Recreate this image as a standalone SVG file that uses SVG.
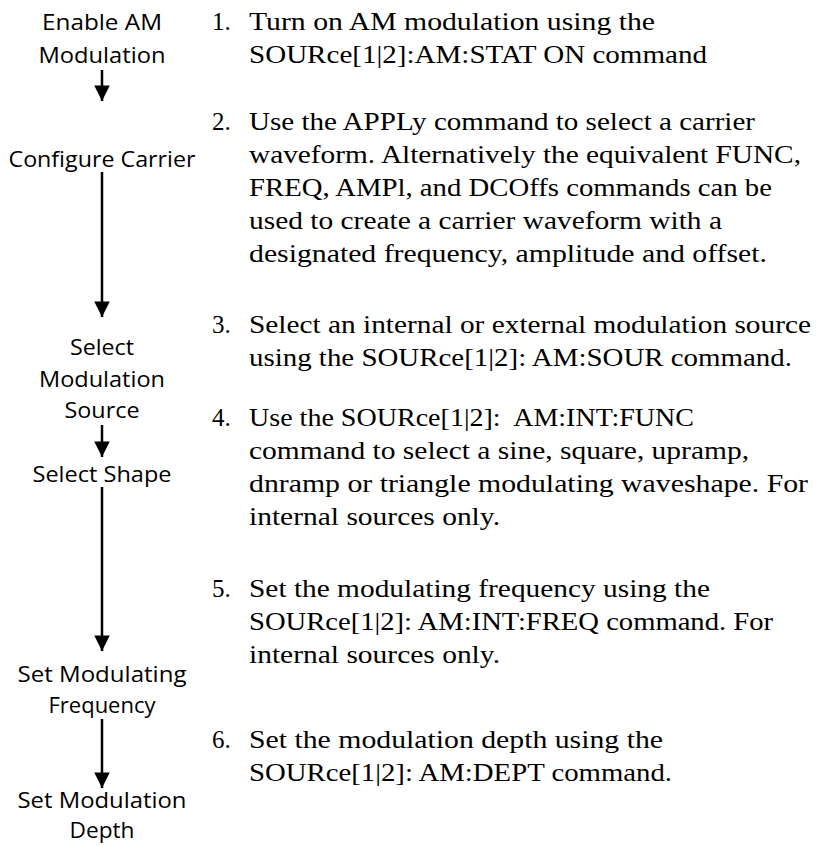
<svg xmlns="http://www.w3.org/2000/svg" width="818" height="846" viewBox="0 0 818 846">
<style>
.l{font-family:"Open Sans","DejaVu Sans",sans-serif;font-size:21px;fill:#000;text-anchor:middle}
.r{font-family:"Liberation Serif","DejaVu Serif",serif;font-size:25px;fill:#000}
.c{stroke:#000;stroke-width:2.5;fill:none}
</style>
<defs>
<marker id="ah" viewBox="0 0 10 10" refX="10" refY="5" markerWidth="6.4" markerHeight="6.2" markerUnits="strokeWidth" orient="auto">
<path d="M0,0 L10,5 L0,10 z" fill="#000"/>
</marker>
</defs>
<rect width="818" height="846" fill="#fff"/>
<g id="connectors">
<line class="c" x1="102" y1="70" x2="102" y2="101" marker-end="url(#ah)"/>
<line class="c" x1="102" y1="172" x2="102" y2="317" marker-end="url(#ah)"/>
<line class="c" x1="102" y1="425" x2="102" y2="457" marker-end="url(#ah)"/>
<line class="c" x1="102" y1="487" x2="102" y2="651" marker-end="url(#ah)"/>
<line class="c" x1="102" y1="719" x2="102" y2="788" marker-end="url(#ah)"/>
</g>
<g id="n1"><text class="l" x="102" y="30" textLength="120" lengthAdjust="spacingAndGlyphs">Enable AM</text><text class="l" x="102" y="63" textLength="127" lengthAdjust="spacingAndGlyphs">Modulation</text></g>
<g id="n2"><text class="l" x="102" y="167" textLength="187" lengthAdjust="spacingAndGlyphs">Configure Carrier</text></g>
<g id="n3"><text class="l" x="102" y="355" textLength="64" lengthAdjust="spacingAndGlyphs">Select</text><text class="l" x="102" y="387" textLength="126" lengthAdjust="spacingAndGlyphs">Modulation</text><text class="l" x="102" y="418" textLength="75" lengthAdjust="spacingAndGlyphs">Source</text></g>
<g id="n4"><text class="l" x="102" y="482" textLength="139" lengthAdjust="spacingAndGlyphs">Select Shape</text></g>
<g id="n5"><text class="l" x="102" y="682" textLength="169" lengthAdjust="spacingAndGlyphs">Set Modulating</text><text class="l" x="102" y="713" textLength="107" lengthAdjust="spacingAndGlyphs">Frequency</text></g>
<g id="n6"><text class="l" x="102" y="808" textLength="169" lengthAdjust="spacingAndGlyphs">Set Modulation</text><text class="l" x="102" y="838" textLength="65" lengthAdjust="spacingAndGlyphs">Depth</text></g>
<g id="steps">
<text class="r" x="212" y="30">1.</text><text class="r" x="249" y="30" textLength="406" lengthAdjust="spacingAndGlyphs">Turn on AM modulation using the</text>
<text class="r" x="249" y="63" textLength="458" lengthAdjust="spacingAndGlyphs">SOURce[1|2]:AM:STAT ON command</text>
<text class="r" x="212" y="130">2.</text><text class="r" x="249" y="130" textLength="506" lengthAdjust="spacingAndGlyphs">Use the APPLy command to select a carrier</text>
<text class="r" x="249" y="163" textLength="552" lengthAdjust="spacingAndGlyphs">waveform. Alternatively the equivalent FUNC,</text>
<text class="r" x="249" y="196" textLength="523" lengthAdjust="spacingAndGlyphs">FREQ, AMPl, and DCOffs commands can be</text>
<text class="r" x="249" y="229" textLength="473" lengthAdjust="spacingAndGlyphs">used to create a carrier waveform with a</text>
<text class="r" x="249" y="262" textLength="518" lengthAdjust="spacingAndGlyphs">designated frequency, amplitude and offset.</text>
<text class="r" x="212" y="333">3.</text><text class="r" x="249" y="333" textLength="562" lengthAdjust="spacingAndGlyphs">Select an internal or external modulation source</text>
<text class="r" x="249" y="366" textLength="543" lengthAdjust="spacingAndGlyphs">using the SOURce[1|2]: AM:SOUR command.</text>
<text class="r" x="212" y="426">4.</text><text class="r" x="249" y="426" xml:space="preserve" textLength="445" lengthAdjust="spacingAndGlyphs">Use the SOURce[1|2]:  AM:INT:FUNC</text>
<text class="r" x="249" y="459" textLength="500" lengthAdjust="spacingAndGlyphs">command to select a sine, square, upramp,</text>
<text class="r" x="249" y="492" textLength="559" lengthAdjust="spacingAndGlyphs">dnramp or triangle modulating waveshape. For</text>
<text class="r" x="249" y="525" textLength="251" lengthAdjust="spacingAndGlyphs">internal sources only.</text>
<text class="r" x="212" y="597">5.</text><text class="r" x="249" y="597" textLength="461" lengthAdjust="spacingAndGlyphs">Set the modulating frequency using the</text>
<text class="r" x="249" y="630" textLength="524" lengthAdjust="spacingAndGlyphs">SOURce[1|2]: AM:INT:FREQ command. For</text>
<text class="r" x="249" y="663" textLength="251" lengthAdjust="spacingAndGlyphs">internal sources only.</text>
<text class="r" x="212" y="748">6.</text><text class="r" x="249" y="748" textLength="414" lengthAdjust="spacingAndGlyphs">Set the modulation depth using the</text>
<text class="r" x="249" y="781" textLength="423" lengthAdjust="spacingAndGlyphs">SOURce[1|2]: AM:DEPT command.</text>
</g>
</svg>
